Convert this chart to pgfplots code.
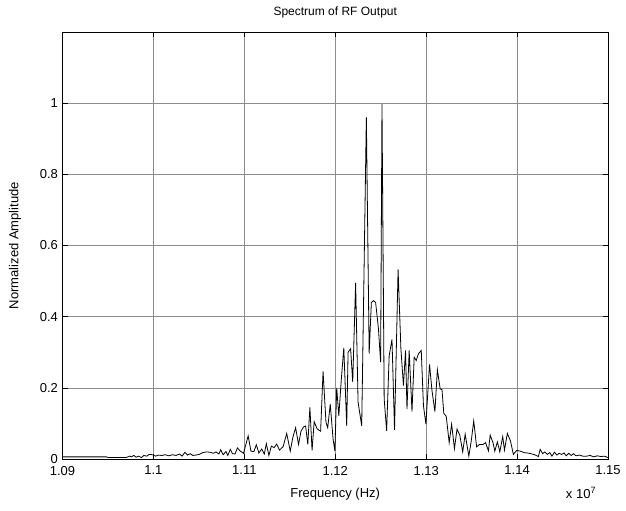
\documentclass[border=0pt]{standalone}
\usepackage{fontspec}
\setmainfont{Liberation Sans}
\usepackage{pgfplots}
\pgfplotsset{compat=1.18}
\usetikzlibrary{calc}
\begin{document}
\begin{tikzpicture}
\fontsize{13bp}{15bp}\selectfont
\begin{axis}[
  scale only axis,
  width=545.5bp, height=427bp,
  xmin=1.09, xmax=1.15, ymin=0, ymax=1.2,
  xtick={1.09,1.10,1.11,1.12,1.13,1.14,1.15},
  xticklabels={1.09,1.1,1.11,1.12,1.13,1.14,1.15},
  ytick={0,0.2,0.4,0.6,0.8,1},
  yticklabels={0,0.2,0.4,0.6,0.8,1},
  tick align=inside,
  major tick length=5bp,
  tick style={black, line width=0.6bp},
  grid=major,
  major grid style={black!45, line width=0.6bp},
  axis line style={black, line width=0.9bp},
  xticklabel style={font=\fontsize{13bp}{15bp}\selectfont, yshift=-2.5bp},
  yticklabel style={font=\fontsize{13bp}{15bp}\selectfont},
  title={Spectrum of RF Output},
  title style={at={(axis description cs:0.5,1)}, anchor=center, yshift=14bp, font=\fontsize{12bp}{14bp}\selectfont},
  xlabel={Frequency (Hz)},
  xlabel style={at={(axis description cs:0.5,0)}, anchor=center, yshift=-35bp, font=\fontsize{13bp}{15bp}\selectfont},
  ylabel={Normalized Amplitude},
  ylabel style={at={(axis description cs:-0.0871,0.5)}, anchor=center, font=\fontsize{13bp}{15bp}\selectfont},
]
\addplot[black, line width=0.8bp, mark=none] coordinates {
(1.09000,0.006) (1.09208,0.006) (1.09483,0.006) (1.09503,0.004) (1.09699,0.004)
(1.09738,0.008) (1.09758,0.006) (1.09785,0.010) (1.09809,0.005) (1.09836,0.008)
(1.09868,0.004) (1.09895,0.010) (1.09927,0.008) (1.09954,0.013) (1.09993,0.012)
(1.10025,0.008) (1.10052,0.011) (1.10092,0.010) (1.10131,0.012) (1.10170,0.009)
(1.10209,0.012) (1.10249,0.010) (1.10288,0.014) (1.10315,0.008) (1.10347,0.019)
(1.10374,0.011) (1.10406,0.015) (1.10433,0.010) (1.10465,0.011) (1.10504,0.013)
(1.10543,0.018) (1.10582,0.020) (1.10622,0.019) (1.10661,0.016) (1.10688,0.020)
(1.10720,0.014) (1.10740,0.026) (1.10767,0.012) (1.10798,0.021) (1.10818,0.010)
(1.10846,0.027) (1.10869,0.015) (1.10897,0.014) (1.10924,0.031) (1.10952,0.023)
(1.10991,0.016) (1.11042,0.065) (1.11073,0.022) (1.11105,0.021) (1.11132,0.040)
(1.11160,0.017) (1.11191,0.028) (1.11219,0.014) (1.11242,0.043) (1.11270,0.010)
(1.11297,0.036) (1.11328,0.032) (1.11356,0.042) (1.11387,0.025) (1.11427,0.035)
(1.11466,0.072) (1.11505,0.022) (1.11533,0.060) (1.11564,0.088) (1.11596,0.041)
(1.11623,0.078) (1.11651,0.090) (1.11674,0.093) (1.11698,0.041) (1.11721,0.145)
(1.11745,0.024) (1.11768,0.105) (1.11800,0.085) (1.11839,0.078) (1.11866,0.246)
(1.11898,0.103) (1.11917,0.088) (1.11945,0.154) (1.11976,0.056) (1.11996,0.023)
(1.12016,0.200) (1.12039,0.121) (1.12067,0.225) (1.12094,0.312) (1.12126,0.093)
(1.12141,0.300) (1.12169,0.310) (1.12192,0.216) (1.12224,0.495) (1.12251,0.160)
(1.12291,0.093) (1.12342,0.960) (1.12373,0.296) (1.12397,0.440) (1.12420,0.445)
(1.12444,0.440) (1.12475,0.366) (1.12499,0.272) (1.12514,0.997) (1.12538,0.169)
(1.12565,0.079) (1.12593,0.290) (1.12624,0.336) (1.12652,0.082) (1.12691,0.533)
(1.12722,0.310) (1.12750,0.206) (1.12773,0.305) (1.12789,0.140) (1.12813,0.305)
(1.12844,0.133) (1.12868,0.286) (1.12891,0.277) (1.12915,0.296) (1.12946,0.305)
(1.12970,0.150) (1.12997,0.098) (1.13037,0.266) (1.13064,0.192) (1.13096,0.133)
(1.13123,0.251) (1.13154,0.197) (1.13174,0.195) (1.13194,0.128) (1.13221,0.120)
(1.13253,0.046) (1.13280,0.098) (1.13311,0.029) (1.13339,0.084) (1.13370,0.067)
(1.13402,0.020) (1.13429,0.070) (1.13469,0.008) (1.13496,0.051) (1.13523,0.107)
(1.13555,0.034) (1.13586,0.041) (1.13626,0.041) (1.13653,0.046) (1.13685,0.023)
(1.13704,0.067) (1.13736,0.045) (1.13755,0.022) (1.13783,0.048) (1.13810,0.020)
(1.13842,0.063) (1.13861,0.025) (1.13893,0.072) (1.13928,0.050) (1.13959,0.013)
(1.13995,0.024) (1.14038,0.022) (1.14077,0.018) (1.14136,0.016) (1.14195,0.012)
(1.14234,0.007) (1.14254,0.027) (1.14281,0.015) (1.14305,0.020) (1.14332,0.013)
(1.14360,0.018) (1.14383,0.008) (1.14411,0.019) (1.14438,0.011) (1.14462,0.016)
(1.14489,0.013) (1.14517,0.017) (1.14540,0.009) (1.14568,0.016) (1.14595,0.010)
(1.14619,0.015) (1.14647,0.009) (1.14686,0.011) (1.14725,0.008) (1.14764,0.008)
(1.14804,0.010) (1.14843,0.006) (1.14882,0.009) (1.14921,0.007) (1.14961,0.008)
(1.15000,0.004)
};
\end{axis}
\node[anchor=center, font=\fontsize{13bp}{15bp}\selectfont] at ($(current axis.south east)+(-27bp,-34bp)$) {x 10\textsuperscript{7}};
\path ($(current axis.south west)+(-62.5bp,-51bp)$) rectangle ($(current axis.north east)+(18bp,32bp)$);
\end{tikzpicture}
\end{document}
